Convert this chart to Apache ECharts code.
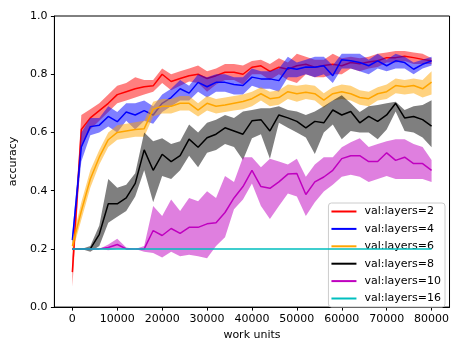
<!DOCTYPE html>
<html>
<head>
<meta charset="utf-8">
<script src="https://cdn.jsdelivr.net/npm/echarts@6/dist/echarts.min.js"></script>
<style>
  html, body { margin: 0; padding: 0; background: #ffffff; }
  #chart { width: 452px; height: 346px; }
</style>
</head>
<body>
<div id="chart"></div>
<script>
// Evaluation points (work units)
const workUnits = [0, 2000, 4000, 6000, 8000, 10000, 12000, 14000, 16000, 18000,
  20000, 22000, 24000, 26000, 28000, 30000, 32000, 34000, 36000, 38000,
  40000, 42000, 44000, 46000, 48000, 50000, 52000, 54000, 56000, 58000,
  60000, 62000, 64000, 66000, 68000, 70000, 72000, 74000, 76000, 78000, 80000];

const xTicks = [0, 10000, 20000, 30000, 40000, 50000, 60000, 70000, 80000];
const yTicks = [0.0, 0.2, 0.4, 0.6, 0.8, 1.0];

// layers = 2
const layers2Mean = [0.12, 0.61, 0.65, 0.675, 0.70, 0.73, 0.74, 0.75, 0.757, 0.76, 0.80, 0.775, 0.785, 0.795, 0.80, 0.785, 0.795, 0.807, 0.807, 0.80, 0.824, 0.829, 0.81, 0.824, 0.817, 0.829, 0.834, 0.824, 0.83, 0.834, 0.829, 0.84, 0.836, 0.842, 0.846, 0.857, 0.857, 0.862, 0.857, 0.851, 0.846];
const layers2Low  = [0.07, 0.55, 0.61, 0.64, 0.67, 0.70, 0.71, 0.72, 0.73, 0.74, 0.77, 0.745, 0.76, 0.775, 0.77, 0.74, 0.765, 0.78, 0.78, 0.765, 0.80, 0.80, 0.78, 0.80, 0.78, 0.77, 0.80, 0.79, 0.79, 0.80, 0.80, 0.82, 0.81, 0.82, 0.825, 0.84, 0.84, 0.845, 0.835, 0.835, 0.835];
const layers2High = [0.17, 0.66, 0.68, 0.70, 0.73, 0.76, 0.77, 0.79, 0.78, 0.78, 0.82, 0.80, 0.81, 0.82, 0.83, 0.81, 0.82, 0.835, 0.835, 0.83, 0.845, 0.85, 0.835, 0.855, 0.84, 0.87, 0.86, 0.85, 0.85, 0.87, 0.855, 0.86, 0.855, 0.86, 0.87, 0.875, 0.88, 0.88, 0.875, 0.87, 0.855];

// layers = 4
const layers4Mean = [0.23, 0.55, 0.62, 0.625, 0.655, 0.637, 0.67, 0.66, 0.675, 0.66, 0.70, 0.72, 0.75, 0.735, 0.772, 0.757, 0.772, 0.772, 0.765, 0.761, 0.79, 0.784, 0.784, 0.778, 0.822, 0.817, 0.825, 0.824, 0.829, 0.795, 0.85, 0.846, 0.84, 0.829, 0.846, 0.829, 0.846, 0.84, 0.817, 0.834, 0.846];
const layers4Low  = [0.21, 0.50, 0.59, 0.60, 0.62, 0.60, 0.64, 0.61, 0.64, 0.63, 0.67, 0.69, 0.71, 0.71, 0.74, 0.72, 0.74, 0.74, 0.73, 0.73, 0.76, 0.75, 0.75, 0.74, 0.79, 0.79, 0.80, 0.79, 0.80, 0.77, 0.82, 0.82, 0.81, 0.80, 0.82, 0.81, 0.82, 0.82, 0.80, 0.82, 0.83];
const layers4High = [0.25, 0.60, 0.65, 0.65, 0.69, 0.67, 0.70, 0.70, 0.71, 0.69, 0.73, 0.75, 0.78, 0.76, 0.80, 0.79, 0.80, 0.80, 0.79, 0.79, 0.82, 0.81, 0.81, 0.82, 0.86, 0.84, 0.85, 0.86, 0.86, 0.83, 0.87, 0.87, 0.87, 0.85, 0.87, 0.85, 0.87, 0.86, 0.84, 0.85, 0.86];

// layers = 6
const layers6Mean = [0.21, 0.33, 0.44, 0.515, 0.575, 0.60, 0.605, 0.61, 0.613, 0.68, 0.69, 0.69, 0.70, 0.70, 0.677, 0.70, 0.69, 0.694, 0.70, 0.706, 0.716, 0.733, 0.716, 0.72, 0.74, 0.733, 0.738, 0.733, 0.711, 0.733, 0.74, 0.733, 0.72, 0.716, 0.733, 0.74, 0.761, 0.757, 0.761, 0.75, 0.773];
const layers6Low  = [0.19, 0.30, 0.41, 0.49, 0.55, 0.575, 0.58, 0.585, 0.585, 0.655, 0.665, 0.665, 0.675, 0.675, 0.655, 0.675, 0.665, 0.67, 0.675, 0.68, 0.69, 0.71, 0.69, 0.695, 0.715, 0.705, 0.715, 0.71, 0.685, 0.71, 0.715, 0.71, 0.695, 0.69, 0.71, 0.715, 0.735, 0.73, 0.735, 0.72, 0.73];
const layers6High = [0.23, 0.36, 0.47, 0.54, 0.60, 0.625, 0.63, 0.635, 0.64, 0.705, 0.715, 0.715, 0.725, 0.725, 0.70, 0.725, 0.715, 0.72, 0.725, 0.73, 0.74, 0.755, 0.74, 0.745, 0.765, 0.76, 0.765, 0.76, 0.735, 0.755, 0.765, 0.76, 0.745, 0.74, 0.755, 0.765, 0.785, 0.78, 0.785, 0.78, 0.81];

// layers = 8
const layers8Mean = [0.2, 0.2, 0.2, 0.25, 0.355, 0.355, 0.375, 0.425, 0.54, 0.47, 0.525, 0.50, 0.52, 0.577, 0.549, 0.582, 0.594, 0.616, 0.605, 0.594, 0.64, 0.644, 0.605, 0.66, 0.65, 0.638, 0.616, 0.638, 0.633, 0.677, 0.66, 0.672, 0.633, 0.655, 0.638, 0.66, 0.70, 0.65, 0.655, 0.644, 0.622];
const layers8Low  = [0.2, 0.2, 0.19, 0.21, 0.29, 0.31, 0.33, 0.38, 0.47, 0.36, 0.45, 0.44, 0.47, 0.52, 0.48, 0.53, 0.54, 0.56, 0.55, 0.505, 0.58, 0.594, 0.51, 0.633, 0.616, 0.60, 0.583, 0.526, 0.60, 0.627, 0.577, 0.605, 0.60, 0.60, 0.577, 0.61, 0.672, 0.605, 0.60, 0.583, 0.549];
const layers8High = [0.2, 0.2, 0.21, 0.28, 0.44, 0.41, 0.42, 0.46, 0.60, 0.57, 0.58, 0.56, 0.57, 0.627, 0.60, 0.633, 0.644, 0.66, 0.65, 0.672, 0.677, 0.683, 0.683, 0.69, 0.677, 0.672, 0.66, 0.672, 0.69, 0.71, 0.728, 0.70, 0.67, 0.69, 0.694, 0.70, 0.705, 0.677, 0.69, 0.694, 0.711];

// layers = 10
const layers10Mean = [0.2, 0.2, 0.2, 0.2, 0.205, 0.215, 0.2, 0.2, 0.2, 0.263, 0.246, 0.27, 0.253, 0.274, 0.274, 0.286, 0.29, 0.325, 0.375, 0.414, 0.47, 0.414, 0.408, 0.43, 0.457, 0.459, 0.387, 0.43, 0.447, 0.47, 0.51, 0.52, 0.52, 0.50, 0.50, 0.53, 0.504, 0.515, 0.493, 0.493, 0.47];
const layers10Low  = [0.2, 0.2, 0.2, 0.2, 0.195, 0.2, 0.2, 0.2, 0.19, 0.186, 0.17, 0.19, 0.175, 0.18, 0.175, 0.168, 0.21, 0.24, 0.336, 0.37, 0.425, 0.347, 0.303, 0.347, 0.39, 0.38, 0.313, 0.36, 0.397, 0.42, 0.448, 0.455, 0.448, 0.43, 0.44, 0.45, 0.44, 0.44, 0.44, 0.44, 0.43];
const layers10High = [0.2, 0.2, 0.2, 0.2, 0.215, 0.235, 0.205, 0.2, 0.21, 0.347, 0.313, 0.37, 0.33, 0.375, 0.364, 0.398, 0.375, 0.45, 0.43, 0.515, 0.515, 0.48, 0.51, 0.50, 0.49, 0.51, 0.448, 0.49, 0.515, 0.515, 0.549, 0.566, 0.58, 0.55, 0.56, 0.57, 0.577, 0.577, 0.56, 0.55, 0.505];

// layers = 16
const layers16Mean = [0.2, 0.2, 0.2, 0.2, 0.2, 0.2, 0.2, 0.2, 0.2, 0.2, 0.2, 0.2, 0.2, 0.2, 0.2, 0.2, 0.2, 0.2, 0.2, 0.2, 0.2, 0.2, 0.2, 0.2, 0.2, 0.2, 0.2, 0.2, 0.2, 0.2, 0.2, 0.2, 0.2, 0.2, 0.2, 0.2, 0.2, 0.2, 0.2, 0.2, 0.2];
const layers16Low  = layers16Mean;
const layers16High = layers16Mean;

const runs = [
  { name: 'val:layers=2',  color: '#ff0000', rgb: '255,0,0',     mean: layers2Mean,  low: layers2Low,  high: layers2High },
  { name: 'val:layers=4',  color: '#0000ff', rgb: '0,0,255',     mean: layers4Mean,  low: layers4Low,  high: layers4High },
  { name: 'val:layers=6',  color: '#ffa500', rgb: '255,165,0',   mean: layers6Mean,  low: layers6Low,  high: layers6High },
  { name: 'val:layers=8',  color: '#000000', rgb: '0,0,0',       mean: layers8Mean,  low: layers8Low,  high: layers8High },
  { name: 'val:layers=10', color: '#bf00bf', rgb: '191,0,191',   mean: layers10Mean, low: layers10Low, high: layers10High },
  { name: 'val:layers=16', color: '#00bfbf', rgb: '0,191,191',   mean: layers16Mean, low: layers16Low, high: layers16High }
];

const FONT = 'DejaVu Sans';

// Shaded min/max band drawn as one polygon through the axis scales
function bandSeries(run, z) {
  return {
    type: 'custom',
    name: run.name + ' range',
    silent: true,
    z: z,
    data: workUnits.map((x, i) => [x, run.low[i], run.high[i]]),
    encode: { x: 0, y: [1, 2] },
    renderItem: function (params, api) {
      if (params.dataIndex !== 0) return null;
      const upper = [];
      const lower = [];
      for (let i = 0; i < workUnits.length; i++) {
        upper.push(api.coord([workUnits[i], run.high[i]]));
        lower.unshift(api.coord([workUnits[i], run.low[i]]));
      }
      return {
        type: 'polygon',
        shape: { points: upper.concat(lower) },
        style: { fill: 'rgba(' + run.rgb + ',0.5)', stroke: null }
      };
    }
  };
}

function lineSeries(run, z) {
  return {
    type: 'line',
    name: run.name,
    z: z,
    data: workUnits.map((x, i) => [x, run.mean[i]]),
    showSymbol: false,
    symbol: 'none',
    lineStyle: { color: run.color, width: 1.5 },
    itemStyle: { color: run.color },
    emphasis: { disabled: true }
  };
}

const series = [];
runs.forEach((run, i) => {
  series.push(lineSeries(run, 2 + i * 2));
  series.push(bandSeries(run, 3 + i * 2));
});

const chart = echarts.init(document.getElementById('chart'), null, { renderer: 'canvas' });
chart.setOption({
  animation: false,
  backgroundColor: '#ffffff',
  textStyle: { fontFamily: FONT },
  grid: {
    left: 53, right: 2, top: 16, bottom: 33,
    show: true, borderColor: '#000000', borderWidth: 1, backgroundColor: 'transparent'
  },
  xAxis: {
    type: 'value',
    min: -4000,
    max: 84000,
    name: 'work units',
    nameLocation: 'middle',
    nameGap: 22,
    nameTextStyle: { fontFamily: FONT, fontSize: 11, color: '#000' },
    axisLine: { show: true, onZero: false, lineStyle: { color: '#000', width: 1 } },
    axisTick: { show: true, length: 3.5, inside: false, customValues: xTicks, lineStyle: { color: '#000' } },
    axisLabel: {
      customValues: xTicks, margin: 7, fontFamily: FONT, fontSize: 11, color: '#000',
      formatter: v => String(Math.round(v))
    },
    splitLine: { show: false }
  },
  yAxis: {
    type: 'value',
    min: 0,
    max: 1,
    interval: 0.2,
    name: 'accuracy',
    nameLocation: 'middle',
    nameGap: 30,
    nameTextStyle: { fontFamily: FONT, fontSize: 11, color: '#000' },
    axisLine: { show: true, onZero: false, lineStyle: { color: '#000', width: 1 } },
    axisTick: { show: true, length: 3.5, inside: false, lineStyle: { color: '#000' } },
    axisLabel: {
      margin: 7, fontFamily: FONT, fontSize: 11, color: '#000',
      formatter: v => v.toFixed(1)
    },
    splitLine: { show: false }
  },
  legend: {
    data: runs.map(r => ({ name: r.name, icon: 'rect', itemStyle: { color: r.color } })),
    orient: 'vertical',
    right: 7,
    bottom: 39,
    itemWidth: 25,
    itemHeight: 2,
    itemGap: 6.4,
    padding: [3, 4, 3, 3],
    backgroundColor: 'rgba(255,255,255,0.8)',
    borderColor: '#cccccc',
    borderWidth: 1,
    borderRadius: 3,
    textStyle: { fontFamily: FONT, fontSize: 11, color: '#000', lineHeight: 11, padding: [0, 0, 0, 3] },
    selectedMode: false
  },
  series: series
});
</script>
</body>
</html>
